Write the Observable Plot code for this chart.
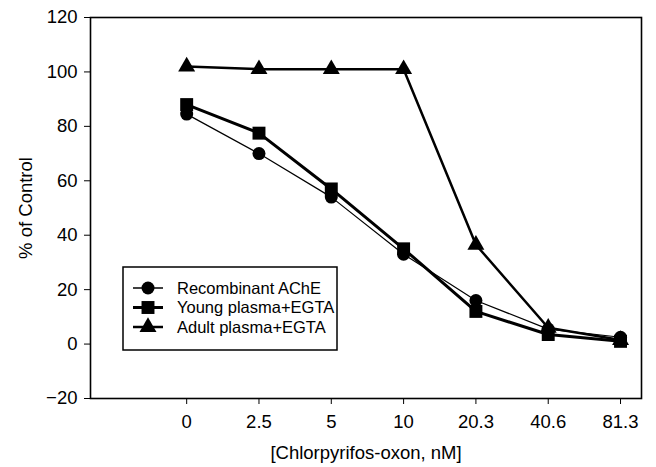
<!DOCTYPE html>
<html>
<head>
<meta charset="utf-8">
<script src="https://cdn.jsdelivr.net/npm/d3@7"></script>
<script src="https://cdn.jsdelivr.net/npm/@observablehq/plot@0.6"></script>
<style>
  html, body { margin: 0; padding: 0; background: #fff; }
</style>
</head>
<body>
<div id="chart"></div>
<script>
const concLabels = ["0", "2.5", "5", "10", "20.3", "40.6", "81.3"];
const seriesNames = ["Recombinant AChE", "Young plasma+EGTA", "Adult plasma+EGTA"];
const recombinant = [84.5, 70, 54, 33, 16, 5.5, 2.5];
const young = [88, 77.5, 57, 35, 12, 3.5, 1];
const adult = [102, 101, 101, 101, 36.5, 6, 1.5];
const yTicks = [-20, 0, 20, 40, 60, 80, 100, 120];

const symbols = ["circle", "square", "triangle"];
const radii = [6.5, 7.3, 6.3];
const widths = [1.2, 3, 2.5];
const valuesBySeries = [recombinant, young, adult];

const rows = valuesBySeries.map((vals, s) =>
  vals.map((v, i) => ({ series: seriesNames[s], i, v }))
);

const marks = [
  Plot.frame({ stroke: "black", strokeWidth: 1.6 }),
  Plot.axisY({
    ticks: yTicks, tickSize: 6, tickPadding: 7,
    label: "% of Control", labelAnchor: "center", labelArrow: "none", labelOffset: 72
  }),
  Plot.axisX({
    ticks: d3.range(concLabels.length), tickFormat: i => concLabels[i],
    tickSize: 6, tickPadding: 10,
    label: "[Chlorpyrifos-oxon, nM]", labelAnchor: "center", labelArrow: "none", labelOffset: 60
  })
];
[1, 0, 2].forEach(s => {
  marks.push(Plot.line(rows[s], { x: "i", y: "v", stroke: "black", strokeWidth: widths[s] }));
});
[1, 0, 2].forEach(s => {
  marks.push(Plot.dot(rows[s], { x: "i", y: "v", symbol: () => symbols[s], r: radii[s], fill: "black", stroke: "none" }));
});

const chart = Plot.plot({
  width: 656,
  height: 467,
  marginLeft: 90,
  marginRight: 15,
  marginTop: 17,
  marginBottom: 69,
  style: { fontFamily: "'Liberation Sans', Arial, sans-serif", fontSize: "18.5px", color: "black", background: "white" },
  x: { domain: [-1.33, 6.29] },
  y: { domain: [-20, 120] },
  marks
});

// Legend box drawn inside the SVG
const svg = d3.select(chart);
const lg = svg.append("g").attr("class", "legend").attr("text-anchor", "start");
lg.append("rect")
  .attr("x", 123).attr("y", 267).attr("width", 214).attr("height", 83)
  .attr("fill", "white").attr("stroke", "black").attr("stroke-width", 1.5);
seriesNames.forEach((name, s) => {
  const cy = 288 + s * 19.5;
  lg.append("line")
    .attr("x1", 133).attr("x2", 163).attr("y1", cy).attr("y2", cy)
    .attr("stroke", "black").attr("stroke-width", s === 0 ? 1.5 : widths[s]);
  const sym = { circle: d3.symbolCircle, square: d3.symbolSquare, triangle: d3.symbolTriangle }[symbols[s]];
  lg.append("path")
    .attr("transform", `translate(148,${cy})`)
    .attr("d", d3.symbol(sym, Math.PI * radii[s] * radii[s])())
    .attr("fill", "black");
  lg.append("text")
    .attr("x", 177).attr("y", cy).attr("dy", "0.35em")
    .attr("font-size", 16.5)
    .attr("text-anchor", "start")
    .attr("fill", "black")
    .text(name);
});

document.getElementById("chart").appendChild(chart);
</script>
</body>
</html>
